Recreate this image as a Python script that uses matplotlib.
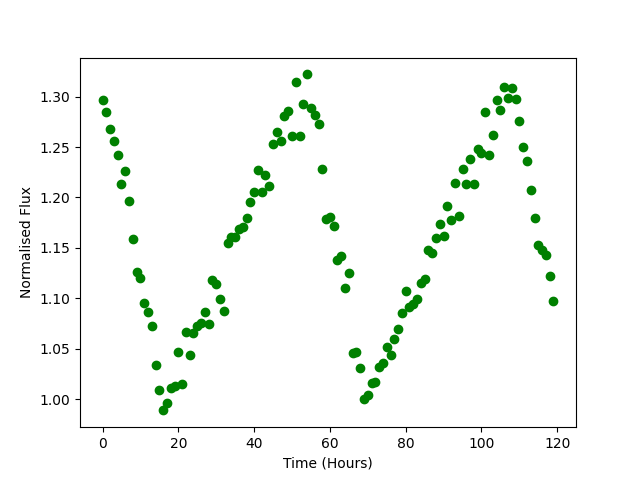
import matplotlib
matplotlib.use("Agg")
import matplotlib.pyplot as plt
import numpy as np

hours = list(range(120))
flux = [
    1.297, 1.285, 1.268, 1.256, 1.242, 1.213, 1.226, 1.197, 1.159, 1.126,
    1.120, 1.095, 1.087, 1.073, 1.034, 1.009, 0.989, 0.996, 1.011, 1.013,
    1.047, 1.015, 1.067, 1.044, 1.066, 1.073, 1.076, 1.087, 1.075, 1.118,
    1.114, 1.099, 1.088, 1.155, 1.161, 1.161, 1.169, 1.171, 1.180, 1.196,
    1.205, 1.227, 1.205, 1.222, 1.211, 1.253, 1.265, 1.256, 1.281, 1.286,
    1.261, 1.314, 1.261, 1.293, 1.322, 1.289, 1.282, 1.273, 1.228, 1.179,
    1.181, 1.172, 1.138, 1.142, 1.110, 1.125, 1.046, 1.047, 1.031, 1.000,
    1.004, 1.016, 1.017, 1.032, 1.036, 1.052, 1.044, 1.060, 1.070, 1.086,
    1.107, 1.091, 1.094, 1.099, 1.115, 1.119, 1.148, 1.145, 1.160, 1.174,
    1.162, 1.192, 1.178, 1.214, 1.182, 1.228, 1.213, 1.238, 1.213, 1.248,
    1.244, 1.285, 1.242, 1.262, 1.297, 1.287, 1.310, 1.299, 1.309, 1.298,
    1.276, 1.250, 1.236, 1.207, 1.180, 1.153, 1.148, 1.143, 1.122, 1.097,
]

fig, ax = plt.subplots(figsize=(6.4, 4.8), dpi=100)
ax.plot(hours, flux, 'o', color='green')
ax.set_xlabel("Time (Hours)")
ax.set_ylabel("Normalised Flux")
fig.savefig("out.png")
